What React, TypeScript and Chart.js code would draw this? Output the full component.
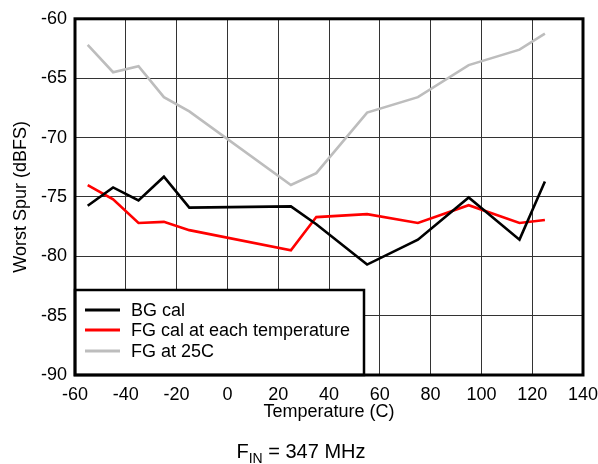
import React, { useEffect, useRef } from "react";
import { Chart, registerables } from "chart.js";

Chart.register(...registerables);

const temperatures = [-55, -45, -35, -25, -15, 25, 35, 55, 75, 95, 115, 125];
const bgCal = [-75.75, -74.2, -75.3, -73.3, -75.9, -75.8, -77.3, -80.7, -78.6, -75.05, -78.6, -73.7];
const fgCalEachTemp = [-74.0, -75.2, -77.2, -77.1, -77.8, -79.5, -76.7, -76.45, -77.2, -75.7, -77.2, -76.95];
const fgAt25C = [-62.2, -64.5, -64.0, -66.6, -67.8, -74.0, -73.0, -67.9, -66.6, -63.9, -62.6, -61.25];

const seriesLabels = ["BG cal", "FG cal at each temperature", "FG at 25C"];
const seriesColors = ["#000000", "#ff0000", "#bdbdbd"];

const xTickValues = [-60, -40, -20, 0, 20, 40, 60, 80, 100, 120, 140];
const yTickValues = [-90, -85, -80, -75, -70, -65, -60];

const FONT = "'Liberation Sans', Arial, Helvetica, sans-serif";

const frameAndLegend = {
  id: "frameAndLegend",
  afterDatasetsDraw(chart: any) {
    const { ctx, chartArea } = chart;
    const { left, right, top, bottom } = chartArea;
    ctx.save();
    // legend box
    const lx = left;
    const ly = bottom - 85;
    const lw = 289;
    const lh = 85;
    ctx.fillStyle = "#ffffff";
    ctx.fillRect(lx, ly, lw, lh);
    ctx.lineWidth = 2.5;
    ctx.strokeStyle = "#000000";
    ctx.strokeRect(lx, ly, lw, lh);
    const rows = [20, 40, 61];
    chart.data.datasets.forEach((ds: any, i: number) => {
      const y = ly + rows[i];
      ctx.beginPath();
      ctx.lineWidth = 3;
      ctx.strokeStyle = ds.borderColor;
      ctx.moveTo(lx + 10, y);
      ctx.lineTo(lx + 45, y);
      ctx.stroke();
      ctx.fillStyle = "#000000";
      ctx.font = `18px ${FONT}`;
      ctx.textBaseline = "middle";
      ctx.textAlign = "left";
      ctx.fillText(ds.label, lx + 56, y + 1);
    });
    // plot frame
    ctx.lineWidth = 3;
    ctx.strokeStyle = "#000000";
    ctx.strokeRect(left, top, right - left, bottom - top);
    ctx.restore();
  },
};

export default function App() {
  const canvasRef = useRef<HTMLCanvasElement | null>(null);

  useEffect(() => {
    const canvas = canvasRef.current;
    if (!canvas) return;
    const seriesValues = [bgCal, fgCalEachTemp, fgAt25C];
    const chart = new Chart(canvas, {
      type: "line",
      data: {
        datasets: seriesValues.map((vals, i) => ({
          label: seriesLabels[i],
          data: temperatures.map((t, j) => ({ x: t, y: vals[j] })),
          borderColor: seriesColors[i],
          backgroundColor: seriesColors[i],
          borderWidth: 2.6,
          pointRadius: 0,
          tension: 0,
          fill: false,
        })),
      },
      options: {
        responsive: false,
        animation: false,
        layout: { padding: { top: 15, right: 15, left: 0, bottom: 0 } },
        plugins: {
          legend: { display: false },
          tooltip: { enabled: false },
        },
        scales: {
          x: {
            type: "linear",
            min: -60,
            max: 140,
            afterBuildTicks: (scale: any) => {
              scale.ticks = xTickValues.map((v) => ({ value: v }));
            },
            afterFit: (scale: any) => {
              scale.height = 89;
              scale.paddingRight = 0;
              scale.paddingLeft = 0;
            },
            grid: { color: "#333333", lineWidth: 1, drawTicks: false },
            border: { display: false },
            ticks: {
              color: "#000",
              padding: 9,
              maxRotation: 0,
              autoSkip: false,
              font: { family: FONT, size: 18 },
            },
            title: {
              display: true,
              text: "Temperature (C)",
              color: "#000",
              font: { family: FONT, size: 18 },
              padding: { top: 0, bottom: 41 },
            },
          },
          y: {
            type: "linear",
            min: -90,
            max: -60,
            afterBuildTicks: (scale: any) => {
              scale.ticks = yTickValues.map((v) => ({ value: v }));
            },
            afterFit: (scale: any) => {
              scale.width = 75;
            },
            grid: { color: "#333333", lineWidth: 1, drawTicks: false },
            border: { display: false },
            ticks: {
              color: "#000",
              padding: 8,
              autoSkip: false,
              font: { family: FONT, size: 18 },
            },
            title: {
              display: true,
              text: "Worst Spur (dBFS)",
              color: "#000",
              font: { family: FONT, size: 18 },
              padding: { top: 10, bottom: 0 },
            },
          },
        },
      },
      plugins: [frameAndLegend],
    });
    return () => chart.destroy();
  }, []);

  return (
    <div style={{ position: "absolute", left: 0, top: 0, width: 598, height: 464, background: "#fff" }}>
      <canvas ref={canvasRef} width={598} height={464} style={{ display: "block" }} />
      <div
        style={{
          position: "absolute",
          left: 0,
          width: 598,
          top: 439,
          textAlign: "center",
          fontFamily: FONT,
          fontSize: 20,
          lineHeight: "24px",
          color: "#000",
          paddingLeft: 2,
        }}
      >
        F<sub style={{ fontSize: 14, verticalAlign: "-5px", lineHeight: 0 }}>IN</sub> = 347 MHz
      </div>
    </div>
  );
}
